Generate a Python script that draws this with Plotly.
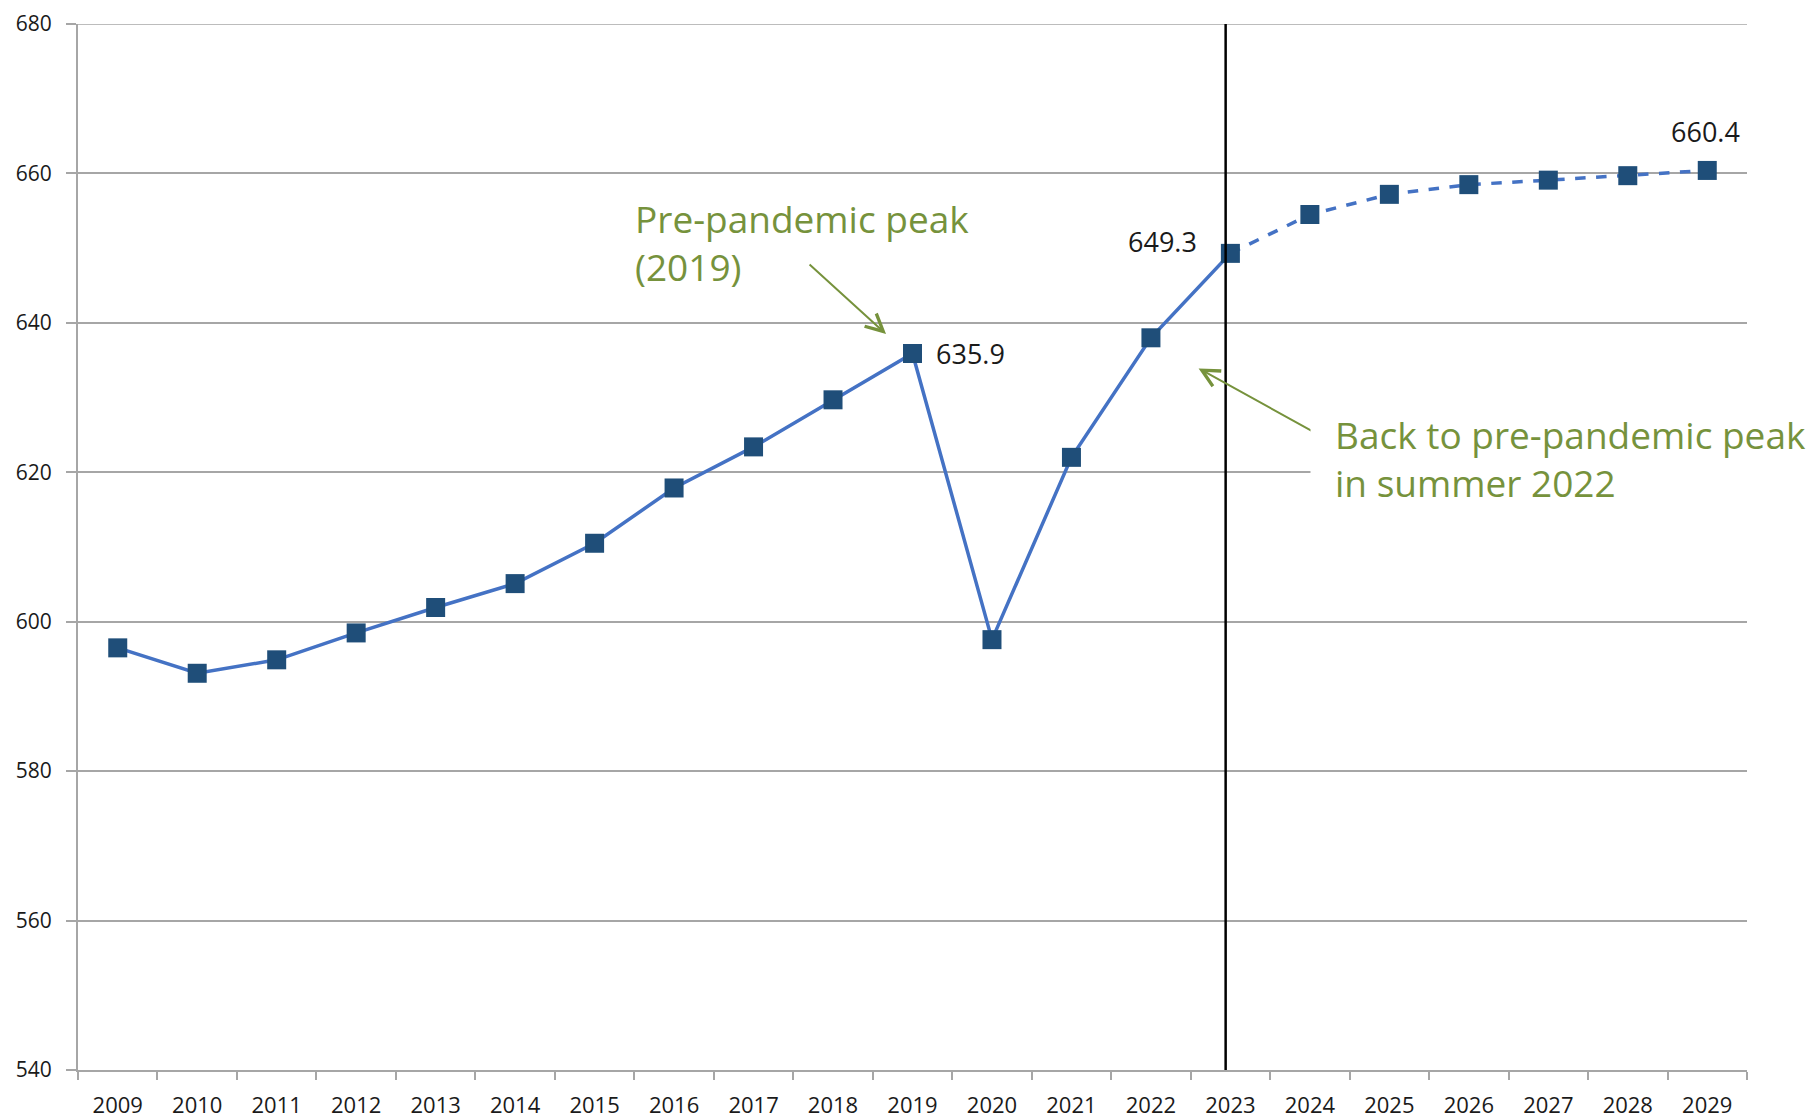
import plotly.graph_objects as go

# ---- data ----
years = [str(y) for y in range(2009, 2030)]
values = [596.5, 593.1, 594.9, 598.5, 601.9, 605.1, 610.5, 617.9, 623.4, 629.7,
          635.9, 597.6, 622.0, 638.0, 649.3, 654.5, 657.2, 658.5, 659.1, 659.7, 660.4]
actual_end = "2023"          # last year of the solid (observed) segment
divider_pos = 13.94          # category position of the vertical divider line
labelled_years = ["2019", "2023", "2029"]
y_ticks = [540, 560, 580, 600, 620, 640, 660, 680]

split = years.index(actual_end)
x_actual, y_actual = years[:split + 1], values[:split + 1]
x_fc, y_fc = years[split:], values[split:]

LINE = "#4472C4"
MARK = "#1F4E79"
GREEN = "#76923C"
GRID = "#A6A6A6"
FONT = "Open Sans"

fig = go.Figure()
fig.add_trace(go.Scatter(x=x_actual, y=y_actual, mode="lines",
                         line=dict(color=LINE, width=3.5), hoverinfo="skip", showlegend=False))
fig.add_trace(go.Scatter(x=x_fc, y=y_fc, mode="lines",
                         line=dict(color=LINE, width=3.5, dash="dash"), hoverinfo="skip", showlegend=False))
fig.add_trace(go.Scatter(x=years, y=values, mode="markers",
                         marker=dict(symbol="square", size=19, color=MARK, line=dict(width=0)),
                         showlegend=False))

# top gridline (plotly omits the grid line at the range edge)
fig.add_shape(type="line", xref="paper", yref="y", x0=0, x1=1,
              y0=y_ticks[-1], y1=y_ticks[-1], line=dict(color=GRID, width=1.5), layer="below")

# vertical divider
fig.add_shape(type="line", xref="x", yref="y", x0=divider_pos, x1=divider_pos,
              y0=y_ticks[0], y1=y_ticks[-1], line=dict(color="black", width=2.5), layer="above")

# data labels (positions by category index)
label_font = dict(family=FONT, size=27, color="#1a1a1a")
shifts = {"2019": dict(xanchor="left", xshift=21, yshift=0),
          "2023": dict(xanchor="right", xshift=-31, yshift=12),
          "2029": dict(xanchor="center", xshift=-2, yshift=39)}
for yr in labelled_years:
    i = years.index(yr)
    fig.add_annotation(x=i, y=values[i], xref="x", yref="y", text=f"{values[i]:.1f}",
                       showarrow=False, yanchor="middle", font=label_font, **shifts[yr])

# callout arrows
fig.add_annotation(x=9.667, y=638.5, ax=8.686, ay=648.0, axref="x", ayref="y",
                   xref="x", yref="y", text="", showarrow=True, arrowhead=5,
                   arrowsize=1.7, arrowwidth=2, arrowcolor=GREEN)
fig.add_annotation(x=13.6, y=633.9, ax=15.076, ay=625.24, axref="x", ayref="y",
                   xref="x", yref="y", text="", showarrow=True, arrowhead=5,
                   arrowsize=1.7, arrowwidth=2, arrowcolor=GREEN)

# callout texts
callout_font = dict(family=FONT, size=37, color=GREEN)
fig.add_annotation(x=6.485, y=650.8, xref="x", yref="y", text="Pre-pandemic peak<br>(2019)",
                   showarrow=False, xanchor="left", yanchor="middle", align="left",
                   font=callout_font)
fig.add_annotation(x=15.0, y=621.9, xref="x", yref="y",
                   text="Back to pre-pandemic peak<br>in summer 2022",
                   showarrow=False, xanchor="left", yanchor="middle", align="left",
                   font=callout_font, bgcolor="white", borderpad=24)

fig.update_layout(
    width=1819, height=1118,
    margin=dict(l=70, r=80, t=16, b=56, autoexpand=False),
    plot_bgcolor="white", paper_bgcolor="white",
    font=dict(family=FONT, color="#1a1a1a"),
)
fig.update_xaxes(type="category", range=[-0.5, len(years) - 0.5], showgrid=False,
                 showline=True, linecolor=GRID, linewidth=2,
                 ticks="outside", tickson="boundaries", ticklen=8, tickcolor=GRID, tickwidth=2,
                 tickfont=dict(family=FONT, size=22, color="#1a1a1a"), ticklabelstandoff=15,
                 ticklabeloverflow="allow", zeroline=False)
fig.update_yaxes(range=[y_ticks[0], y_ticks[-1]], tickvals=y_ticks, showgrid=True,
                 gridcolor=GRID, gridwidth=1.5, showline=True, linecolor=GRID, linewidth=2,
                 ticks="outside", ticklen=10, tickcolor=GRID, tickwidth=2,
                 tickfont=dict(family=FONT, size=21, color="#1a1a1a"), ticklabelstandoff=10,
                 ticklabeloverflow="allow", zeroline=False)

fig.write_html("out.html")
